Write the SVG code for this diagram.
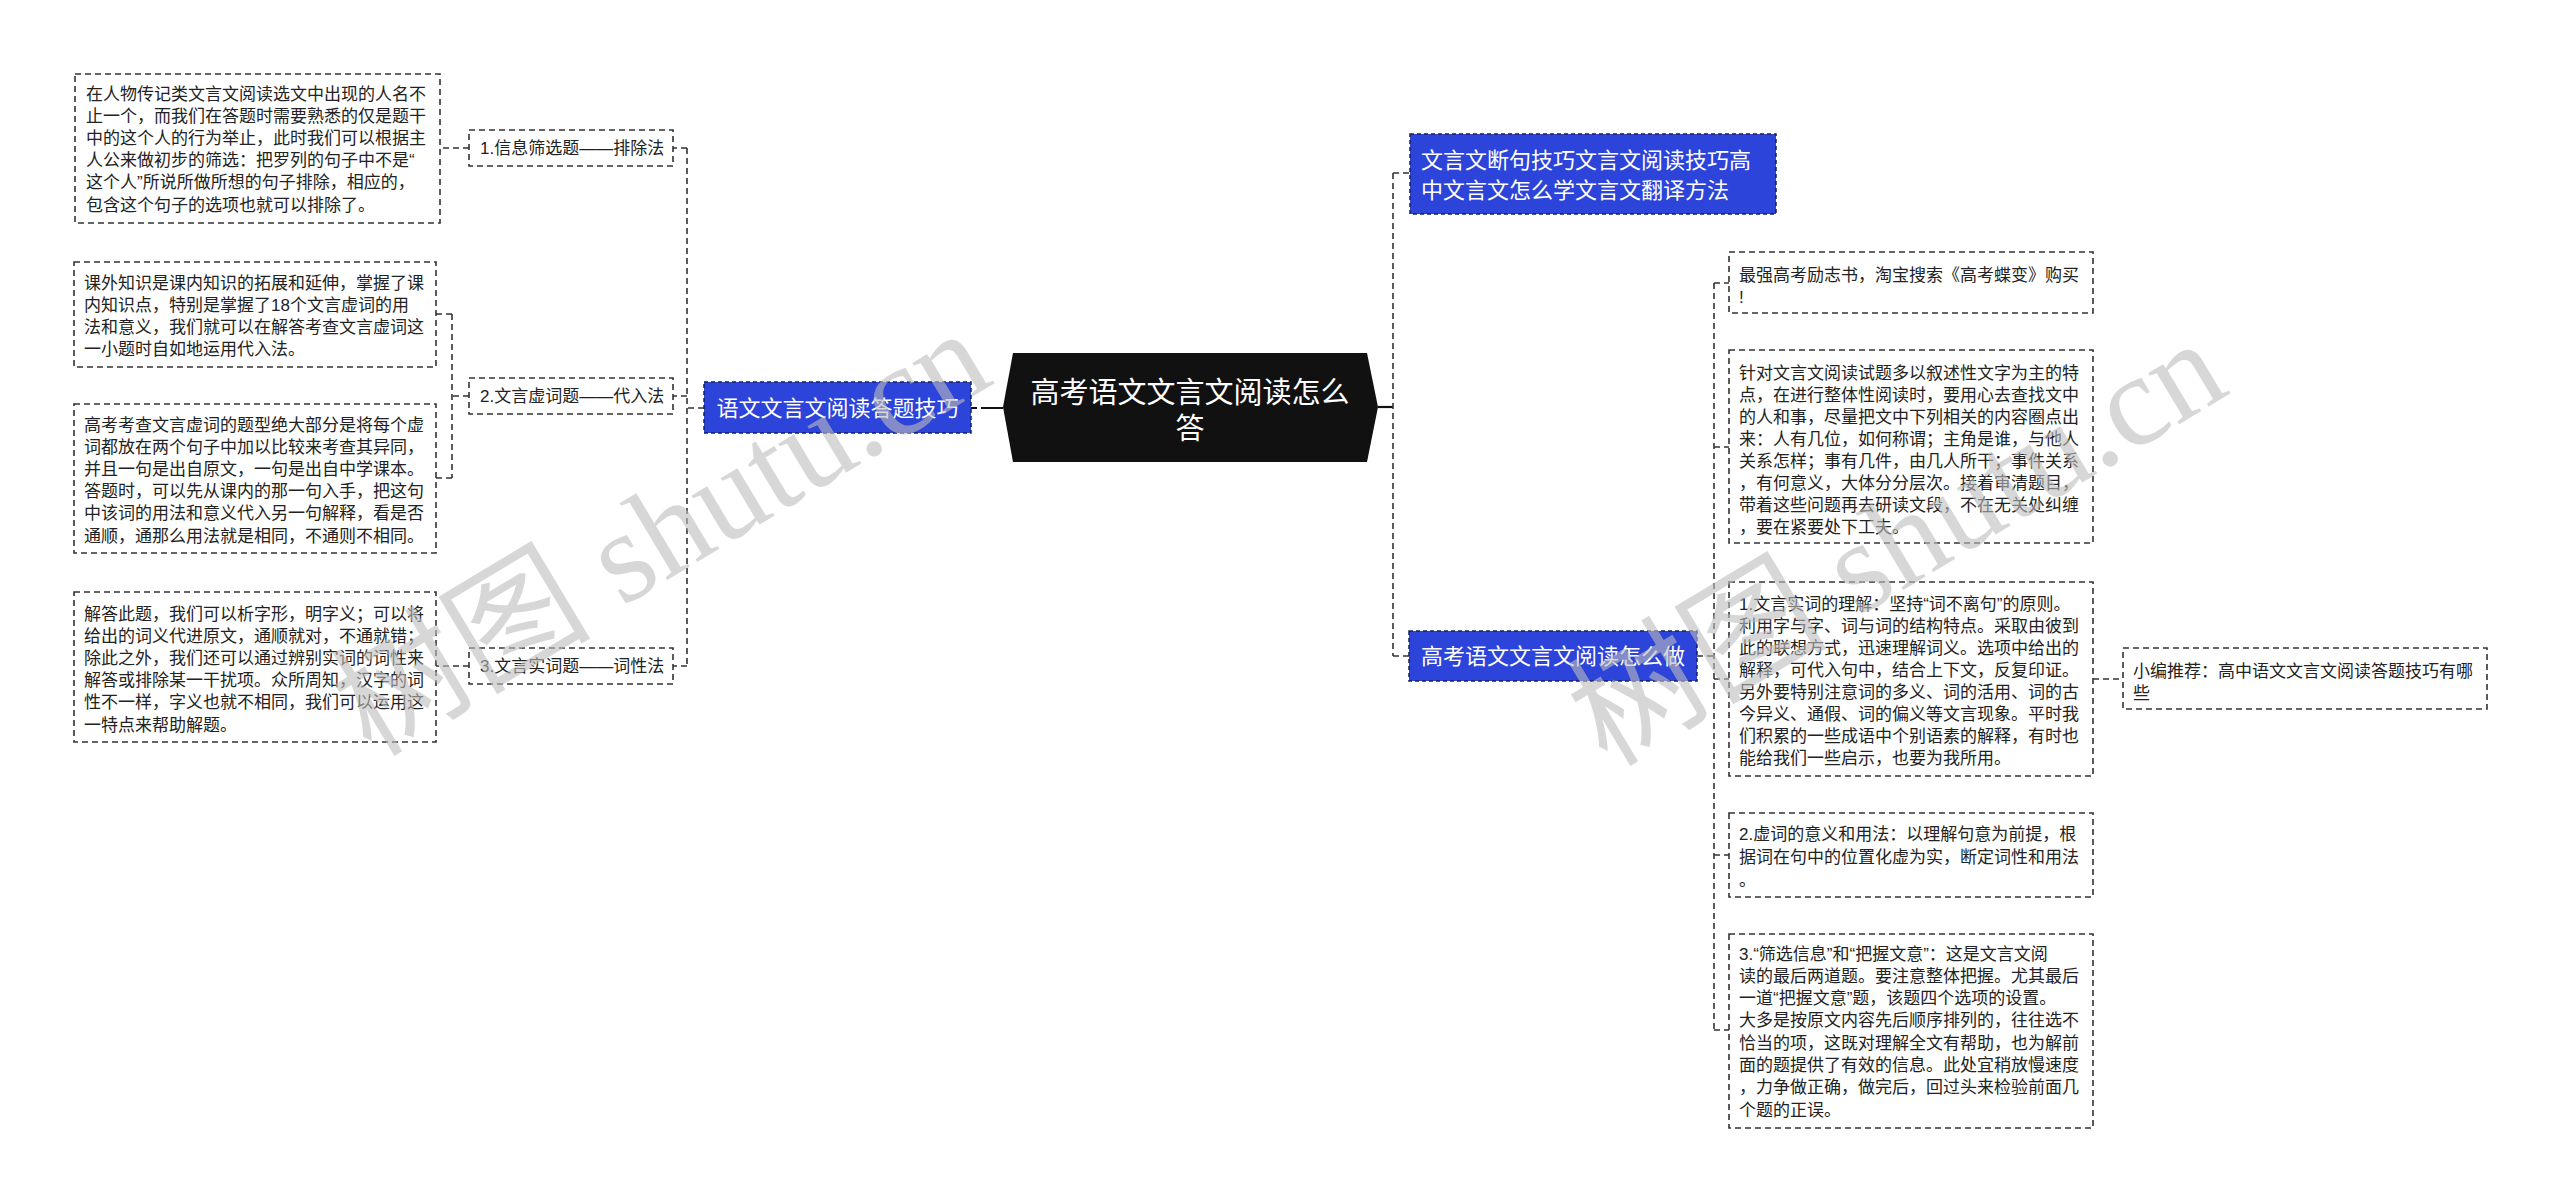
<svg xmlns="http://www.w3.org/2000/svg" width="2560" height="1202" viewBox="0 0 2560 1202">
<style>
.box{fill:#fff;stroke:#333;stroke-width:1.6;stroke-dasharray:6 4}
.blue{fill:#2c44d9;stroke:#16205c;stroke-width:1.5;stroke-dasharray:4 3}
.t{font-family:"Liberation Sans","Noto Sans CJK SC",sans-serif;font-size:17px;fill:#222}
.tb{font-family:"Liberation Sans","Noto Sans CJK SC",sans-serif;font-size:22px;fill:#fff}
.tc{font-family:"Liberation Sans","Noto Sans CJK SC",sans-serif;font-size:29px;fill:#fff}
.link{fill:none;stroke:#333;stroke-width:1.6;stroke-dasharray:6 4}
.solid{fill:none;stroke:#111;stroke-width:2.2}
.wm{font-family:"Liberation Serif","Noto Sans CJK SC",serif;font-size:130px;fill:#bdbdbd;opacity:0.6}
</style>
<rect width="2560" height="1202" fill="#fff"/>
<g id="connectors">
<path class="link" d="M704 408H687"/>
<path class="link" d="M687 148V666"/>
<path class="link" d="M687 148H673M687 396H673M687 666H673"/>
<path class="link" d="M469 148H440"/>
<path class="link" d="M469 396H452"/>
<path class="link" d="M452 314V478"/>
<path class="link" d="M452 314H436M452 478H436"/>
<path class="link" d="M469 666H436"/>
<path class="solid" d="M971 408H977M981 408H1003"/>
<path class="solid" d="M1378 407H1393"/>
<path class="link" d="M1393 173V656"/>
<path class="link" d="M1393 173H1410M1393 656H1409"/>
<path class="link" d="M1697 656H1714"/>
<path class="link" d="M1714 283V1030"/>
<path class="link" d="M1714 283H1729M1714 447H1729M1714 679H1729M1714 855H1729M1714 1030H1729"/>
<path class="link" d="M2093 679H2123"/>
</g>
<g id="center">
<polygon points="1013,353 1367,353 1378,407 1367,462 1013,462 1003,407" fill="#111"/>
<text class="tc" text-anchor="middle"><tspan x="1190" y="403">高考语文文言文阅读怎么</tspan><tspan x="1190" y="439">答</tspan></text>
</g>
<g id="left-main">
<rect class="blue" x="704" y="382" width="267" height="51"/>
<text class="tb" x="837.5" y="416" text-anchor="middle">语文文言文阅读答题技巧</text>
</g>
<g id="label1">
<rect class="box" x="469" y="130" width="204" height="36"/>
<text class="t" x="480" y="154">1.信息筛选题——排除法</text>
</g>
<g id="label2">
<rect class="box" x="469" y="378" width="204" height="36"/>
<text class="t" x="480" y="402">2.文言虚词题——代入法</text>
</g>
<g id="label3">
<rect class="box" x="469" y="648" width="204" height="36"/>
<text class="t" x="480" y="672">3.文言实词题——词性法</text>
</g>
<g id="boxA">
<rect class="box" x="75" y="74" width="365" height="149"/>
<text class="t"><tspan x="86" y="99.5">在人物传记类文言文阅读选文中出现的人名不</tspan><tspan x="86" dy="22.2">止一个，而我们在答题时需要熟悉的仅是题干</tspan><tspan x="86" dy="22.2">中的这个人的行为举止，此时我们可以根据主</tspan><tspan x="86" dy="22.2">人公来做初步的筛选：把罗列的句子中不是“</tspan><tspan x="86" dy="22.2">这个人”所说所做所想的句子排除，相应的，</tspan><tspan x="86" dy="22.2">包含这个句子的选项也就可以排除了。</tspan></text>
</g>
<g id="boxB">
<rect class="box" x="74" y="262" width="362" height="105"/>
<text class="t"><tspan x="84" y="288.5">课外知识是课内知识的拓展和延伸，掌握了课</tspan><tspan x="84" dy="22.2">内知识点，特别是掌握了18个文言虚词的用</tspan><tspan x="84" dy="22.2">法和意义，我们就可以在解答考查文言虚词这</tspan><tspan x="84" dy="22.2">一小题时自如地运用代入法。</tspan></text>
</g>
<g id="boxC">
<rect class="box" x="74" y="404" width="362" height="149"/>
<text class="t"><tspan x="84" y="430.5">高考考查文言虚词的题型绝大部分是将每个虚</tspan><tspan x="84" dy="22.2">词都放在两个句子中加以比较来考查其异同，</tspan><tspan x="84" dy="22.2">并且一句是出自原文，一句是出自中学课本。</tspan><tspan x="84" dy="22.2">答题时，可以先从课内的那一句入手，把这句</tspan><tspan x="84" dy="22.2">中该词的用法和意义代入另一句解释，看是否</tspan><tspan x="84" dy="22.2">通顺，通那么用法就是相同，不通则不相同。</tspan></text>
</g>
<g id="boxD">
<rect class="box" x="74" y="592" width="362" height="150"/>
<text class="t"><tspan x="84" y="619.5">解答此题，我们可以析字形，明字义；可以将</tspan><tspan x="84" dy="22.2">给出的词义代进原文，通顺就对，不通就错；</tspan><tspan x="84" dy="22.2">除此之外，我们还可以通过辨别实词的词性来</tspan><tspan x="84" dy="22.2">解答或排除某一干扰项。众所周知，汉字的词</tspan><tspan x="84" dy="22.2">性不一样，字义也就不相同，我们可以运用这</tspan><tspan x="84" dy="22.2">一特点来帮助解题。</tspan></text>
</g>
<g id="right-top">
<rect class="blue" x="1410" y="134" width="366" height="80"/>
<text class="tb"><tspan x="1421" y="168">文言文断句技巧文言文阅读技巧高</tspan><tspan x="1421" y="198">中文言文怎么学文言文翻译方法</tspan></text>
</g>
<g id="right-main">
<rect class="blue" x="1409" y="631" width="288" height="50"/>
<text class="tb" x="1553" y="664" text-anchor="middle">高考语文文言文阅读怎么做</text>
</g>
<g id="boxR1">
<rect class="box" x="1729" y="252" width="364" height="61"/>
<text class="t"><tspan x="1739" y="280.5">最强高考励志书，淘宝搜索《高考蝶变》购买</tspan><tspan x="1739" dy="22">!</tspan></text>
</g>
<g id="boxR2">
<rect class="box" x="1729" y="350" width="364" height="193"/>
<text class="t"><tspan x="1739" y="378.5">针对文言文阅读试题多以叙述性文字为主的特</tspan><tspan x="1739" dy="22">点，在进行整体性阅读时，要用心去查找文中</tspan><tspan x="1739" dy="22">的人和事，尽量把文中下列相关的内容圈点出</tspan><tspan x="1739" dy="22">来：人有几位，如何称谓；主角是谁，与他人</tspan><tspan x="1739" dy="22">关系怎样；事有几件，由几人所干；事件关系</tspan><tspan x="1739" dy="22">，有何意义，大体分分层次。接着审清题目，</tspan><tspan x="1739" dy="22">带着这些问题再去研读文段，不在无关处纠缠</tspan><tspan x="1739" dy="22">，要在紧要处下工夫。</tspan></text>
</g>
<g id="boxR3">
<rect class="box" x="1729" y="582" width="364" height="194"/>
<text class="t"><tspan x="1739" y="609.5">1.文言实词的理解：坚持“词不离句”的原则。</tspan><tspan x="1739" dy="22">利用字与字、词与词的结构特点。采取由彼到</tspan><tspan x="1739" dy="22">此的联想方式，迅速理解词义。选项中给出的</tspan><tspan x="1739" dy="22">解释，可代入句中，结合上下文，反复印证。</tspan><tspan x="1739" dy="22">另外要特别注意词的多义、词的活用、词的古</tspan><tspan x="1739" dy="22">今异义、通假、词的偏义等文言现象。平时我</tspan><tspan x="1739" dy="22">们积累的一些成语中个别语素的解释，有时也</tspan><tspan x="1739" dy="22">能给我们一些启示，也要为我所用。</tspan></text>
</g>
<g id="boxR4">
<rect class="box" x="1729" y="813" width="364" height="84"/>
<text class="t"><tspan x="1739" y="839.5">2.虚词的意义和用法：以理解句意为前提，根</tspan><tspan x="1739" dy="23">据词在句中的位置化虚为实，断定词性和用法</tspan><tspan x="1739" dy="23">。</tspan></text>
</g>
<g id="boxR5">
<rect class="box" x="1729" y="934" width="364" height="194"/>
<text class="t"><tspan x="1739" y="959.5">3.“筛选信息”和“把握文意”：这是文言文阅</tspan><tspan x="1739" dy="22.3">读的最后两道题。要注意整体把握。尤其最后</tspan><tspan x="1739" dy="22.3">一道“把握文意”题，该题四个选项的设置。</tspan><tspan x="1739" dy="22.3">大多是按原文内容先后顺序排列的，往往选不</tspan><tspan x="1739" dy="22.3">恰当的项，这既对理解全文有帮助，也为解前</tspan><tspan x="1739" dy="22.3">面的题提供了有效的信息。此处宜稍放慢速度</tspan><tspan x="1739" dy="22.3">，力争做正确，做完后，回过头来检验前面几</tspan><tspan x="1739" dy="22.3">个题的正误。</tspan></text>
</g>
<g id="boxR6">
<rect class="box" x="2123" y="648" width="364" height="61"/>
<text class="t"><tspan x="2133" y="676.5">小编推荐：高中语文文言文阅读答题技巧有哪</tspan><tspan x="2133" dy="22">些</tspan></text>
</g>
<text class="wm" transform="translate(371,758) rotate(-31)">树图 shutu.cn</text>
<text class="wm" transform="translate(1607,768) rotate(-31)">树图 shutu.cn</text>
</svg>
